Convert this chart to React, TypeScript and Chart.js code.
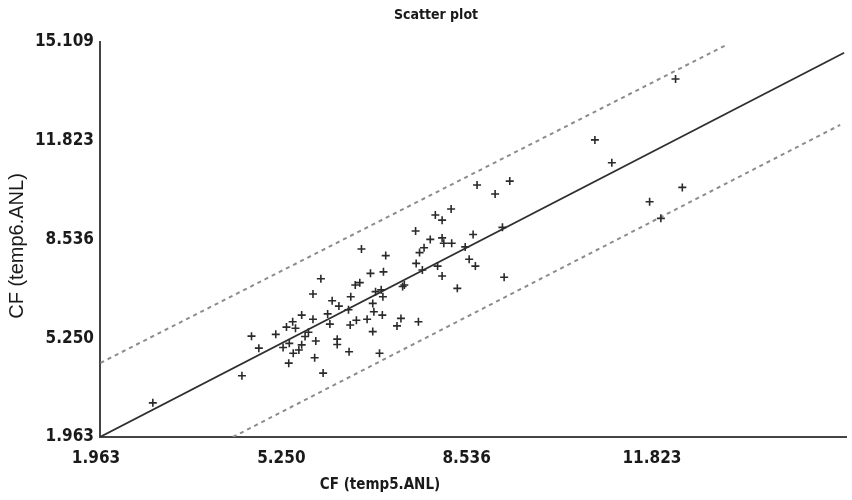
import React, { useEffect, useRef } from "react";
import { Chart, registerables } from "chart.js";

Chart.register(...registerables);

const chartTitle = "Scatter plot";
const xTitle = "CF (temp5.ANL)";
const yTitle = "CF (temp6.ANL)";

const xMin = 1.963;
const xMax = 15.2;
const yMin = 1.963;
const yMax = 15.109;

const xTickValues = [1.963, 5.25, 8.536, 11.823];
const xTickLabels = ["1.963", "5.250", "8.536", "11.823"];
const yTickValues = [1.963, 5.25, 8.536, 11.823, 15.109];
const yTickLabels = ["1.963", "5.250", "8.536", "11.823", "15.109"];

const pointX = [
  2.9, 4.48, 4.65, 4.78, 5.08, 5.21, 5.27, 5.32, 5.31, 5.38, 5.39, 5.43, 5.54, 5.49, 5.54,
  5.6, 5.66, 5.74, 5.74, 5.77, 5.79, 5.88, 5.92, 6.0, 6.04, 6.08, 6.17, 6.17, 6.2, 6.37,
  6.38, 6.41, 6.4, 6.49, 6.51, 6.57, 6.6, 6.7, 6.76, 6.8, 6.82, 6.8, 6.85, 6.92, 6.95,
  6.98, 6.97, 6.99, 7.03, 7.23, 7.3, 7.33, 7.36, 7.56, 7.57, 7.61, 7.63, 7.68, 7.71, 7.82,
  7.91, 7.95, 8.03, 8.03, 8.03, 8.06, 8.19, 8.2, 8.3, 8.44, 8.51, 8.58, 8.62, 8.65, 8.97,
  9.1, 9.13, 9.23, 10.74, 11.04, 11.71, 11.91, 12.17, 12.29,
];
const pointY = [
  3.1, 4.0, 5.32, 4.92, 5.38, 4.94, 5.62, 5.08, 4.42, 5.8, 4.75, 5.58, 5.03, 4.86, 6.02,
  5.31, 5.45, 5.88, 6.72, 4.6, 5.16, 7.23, 4.09, 6.06, 5.72, 6.5, 5.22, 5.04, 6.32, 6.2,
  4.8, 6.63, 5.69, 7.02, 5.85, 7.1, 8.22, 5.88, 7.41, 6.41, 6.13, 5.47, 6.8, 4.75, 6.86,
  6.63, 6.02, 7.46, 8.0, 5.66, 5.91, 6.97, 7.02, 8.82, 7.74, 5.8, 8.1, 7.52, 8.26, 8.54,
  9.35, 7.65, 9.18, 8.59, 7.32, 8.41, 9.55, 8.41, 6.91, 8.29, 7.88, 8.7, 7.65, 10.35, 10.05,
  8.94, 7.28, 10.48, 11.85, 11.09, 9.79, 9.24, 13.88, 10.27,
];

const fitX = [1.963, 15.16];
const fitY = [1.963, 14.75];
const upperX = [1.972, 13.07];
const upperY = [4.43, 15.01];
const lowerX = [4.32, 15.09];
const lowerY = [1.963, 12.35];

const toXY = (xs: number[], ys: number[]) => xs.map((x, i) => ({ x, y: ys[i] }));

const narrowBold = "'Liberation Sans Narrow', 'DejaVu Sans Condensed', 'Arial Narrow', sans-serif";

export default function App() {
  const ref = useRef<HTMLCanvasElement | null>(null);

  useEffect(() => {
    document.body.style.margin = "0";
    const canvas = ref.current;
    if (!canvas) return;

    const titlePlugin = {
      id: "titles",
      afterDraw(chart: any) {
        const ctx = chart.ctx;
        ctx.save();
        ctx.fillStyle = "#1a1a1a";
        ctx.textAlign = "center";
        ctx.textBaseline = "middle";
        ctx.font = `bold 14px ${narrowBold}`;
        ctx.fillText(chartTitle, 436, 15);
        ctx.font = `bold 15px ${narrowBold}`;
        ctx.fillText(xTitle, 380, 485);
        ctx.translate(17, 246);
        ctx.rotate(-Math.PI / 2);
        ctx.font = "20px 'Liberation Sans', Arial, sans-serif";
        ctx.fillText(yTitle, 0, 0);
        ctx.restore();
      },
    };

    const chart = new Chart(canvas, {
      type: "scatter",
      data: {
        datasets: [
          {
            data: toXY(pointX, pointY),
            pointStyle: "cross",
            pointRadius: 4,
            pointBorderWidth: 1.6,
            borderColor: "#2a2a2a",
            backgroundColor: "#2a2a2a",
            showLine: false,
          },
          {
            data: toXY(fitX, fitY),
            showLine: true,
            pointRadius: 0,
            borderColor: "#2f2f2f",
            borderWidth: 1.8,
          },
          {
            data: toXY(upperX, upperY),
            showLine: true,
            pointRadius: 0,
            borderColor: "#8c8c8c",
            borderWidth: 2,
            borderDash: [4, 4],
          },
          {
            data: toXY(lowerX, lowerY),
            showLine: true,
            pointRadius: 0,
            borderColor: "#8c8c8c",
            borderWidth: 2,
            borderDash: [4, 4],
          },
        ],
      },
      options: {
        animation: false,
        responsive: false,
        events: [],
        layout: { padding: { top: 42, right: 4, bottom: 0, left: 0 } },
        plugins: { legend: { display: false }, tooltip: { enabled: false }, title: { display: false } },
        scales: {
          x: {
            type: "linear",
            min: xMin,
            max: xMax,
            afterBuildTicks: (s: any) => {
              s.ticks = xTickValues.map((v) => ({ value: v }));
            },
            afterFit: (s: any) => {
              s.height = 63;
            },
            grid: { display: false, drawTicks: false },
            border: { display: true, color: "#444", width: 2 },
            ticks: {
              autoSkip: false,
              maxRotation: 0,
              padding: 11,
              labelOffset: -4,
              color: "#1a1a1a",
              font: { family: narrowBold, size: 17, weight: "bold" },
              callback: (_v: any, i: number) => xTickLabels[i],
            },
          },
          y: {
            type: "linear",
            min: yMin,
            max: yMax,
            afterBuildTicks: (s: any) => {
              s.ticks = yTickValues.map((v) => ({ value: v }));
            },
            afterFit: (s: any) => {
              s.width = 100;
            },
            grid: { display: false, drawTicks: false },
            border: { display: true, color: "#444", width: 2 },
            ticks: {
              autoSkip: false,
              padding: 6,
              color: "#1a1a1a",
              font: { family: narrowBold, size: 17, weight: "bold" },
              callback: (_v: any, i: number) => yTickLabels[i],
            },
          },
        },
      },
      plugins: [titlePlugin],
    } as any);

    return () => chart.destroy();
  }, []);

  return (
    <div style={{ width: 852, height: 500, background: "#fff" }}>
      <canvas ref={ref} width={852} height={500} style={{ display: "block" }} />
    </div>
  );
}
